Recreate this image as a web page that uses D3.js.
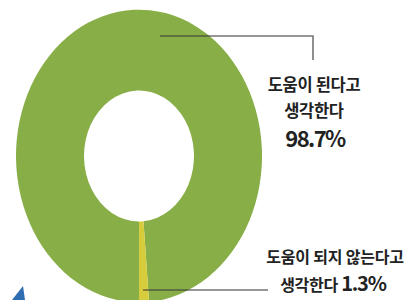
<!DOCTYPE html>
<html>
<head>
<meta charset="utf-8">
<script src="https://cdn.jsdelivr.net/npm/d3@7"></script>
<style>
  body { margin: 0; background: #fff; }
  text { font-family: "Noto Sans CJK KR", "Noto Sans", sans-serif; fill: #222; }
</style>
</head>
<body>
<svg id="chart" width="414" height="300"></svg>
<script>
// answer shares (%)
const categories = ['도움이 된다고 생각한다', '도움이 되지 않는다고 생각한다'];
const values = [98.7, 1.3];
const colors = ['#88ae47', '#d6cc3c'];

const width = 414;
const height = 300;

const svg = d3.select('#chart');

// donut is stretched vertically in the original
const cx = 139, cy = 156;
const stretch = 1.19;

const pie = d3.pie()
    .sort(null)
    .startAngle(Math.PI)
    .endAngle(3 * Math.PI);

const arc = d3.arc()
    .innerRadius(55)
    .outerRadius(123);

const donut = svg.append('g')
    .attr('transform', `translate(${cx},${cy}) scale(1,${stretch})`);

donut.selectAll('path')
    .data(pie(values))
    .enter().append('path')
    .attr('d', arc)
    .attr('fill', (d, i) => colors[i]);

// leader lines
const lines = svg.append('g')
    .attr('fill', 'none')
    .attr('stroke', '#3a3a3a')
    .attr('stroke-opacity', 0.7)
    .attr('stroke-width', 1.6);

lines.append('path').attr('d', 'M160,36H313V60');
lines.append('path').attr('d', 'M143,290H268');

// labels
const big = svg.append('g').attr('text-anchor', 'middle');

big.append('text')
    .attr('x', 314).attr('y', 91)
    .attr('font-size', 16.5).attr('font-weight', 700)
    .attr('letter-spacing', -0.3)
    .text('도움이 된다고');
big.append('text')
    .attr('x', 314).attr('y', 117)
    .attr('font-size', 16.5).attr('font-weight', 700)
    .attr('letter-spacing', -0.3)
    .text('생각한다');
big.append('text')
    .attr('x', 315).attr('y', 147)
    .attr('font-size', 22).attr('font-weight', 700)
    .attr('letter-spacing', -1.6)
    .text(values[0] + '%');

big.append('text')
    .attr('x', 335).attr('y', 263)
    .attr('font-size', 16).attr('font-weight', 700)
    .attr('letter-spacing', -0.2)
    .text('도움이 되지 않는다고');

const small = big.append('text')
    .attr('x', 333).attr('y', 291)
    .attr('font-weight', 700);
small.append('tspan').attr('font-size', 16).attr('letter-spacing', -0.3).text('생각한다 ');
small.append('tspan').attr('font-size', 20).attr('letter-spacing', -1.2).text(values[1] + '%');

// corner of the neighbouring graphic
svg.append('path')
    .attr('d', 'M12,300L23,286L25,300Z')
    .attr('fill', '#2f6db3');
</script>
</body>
</html>
